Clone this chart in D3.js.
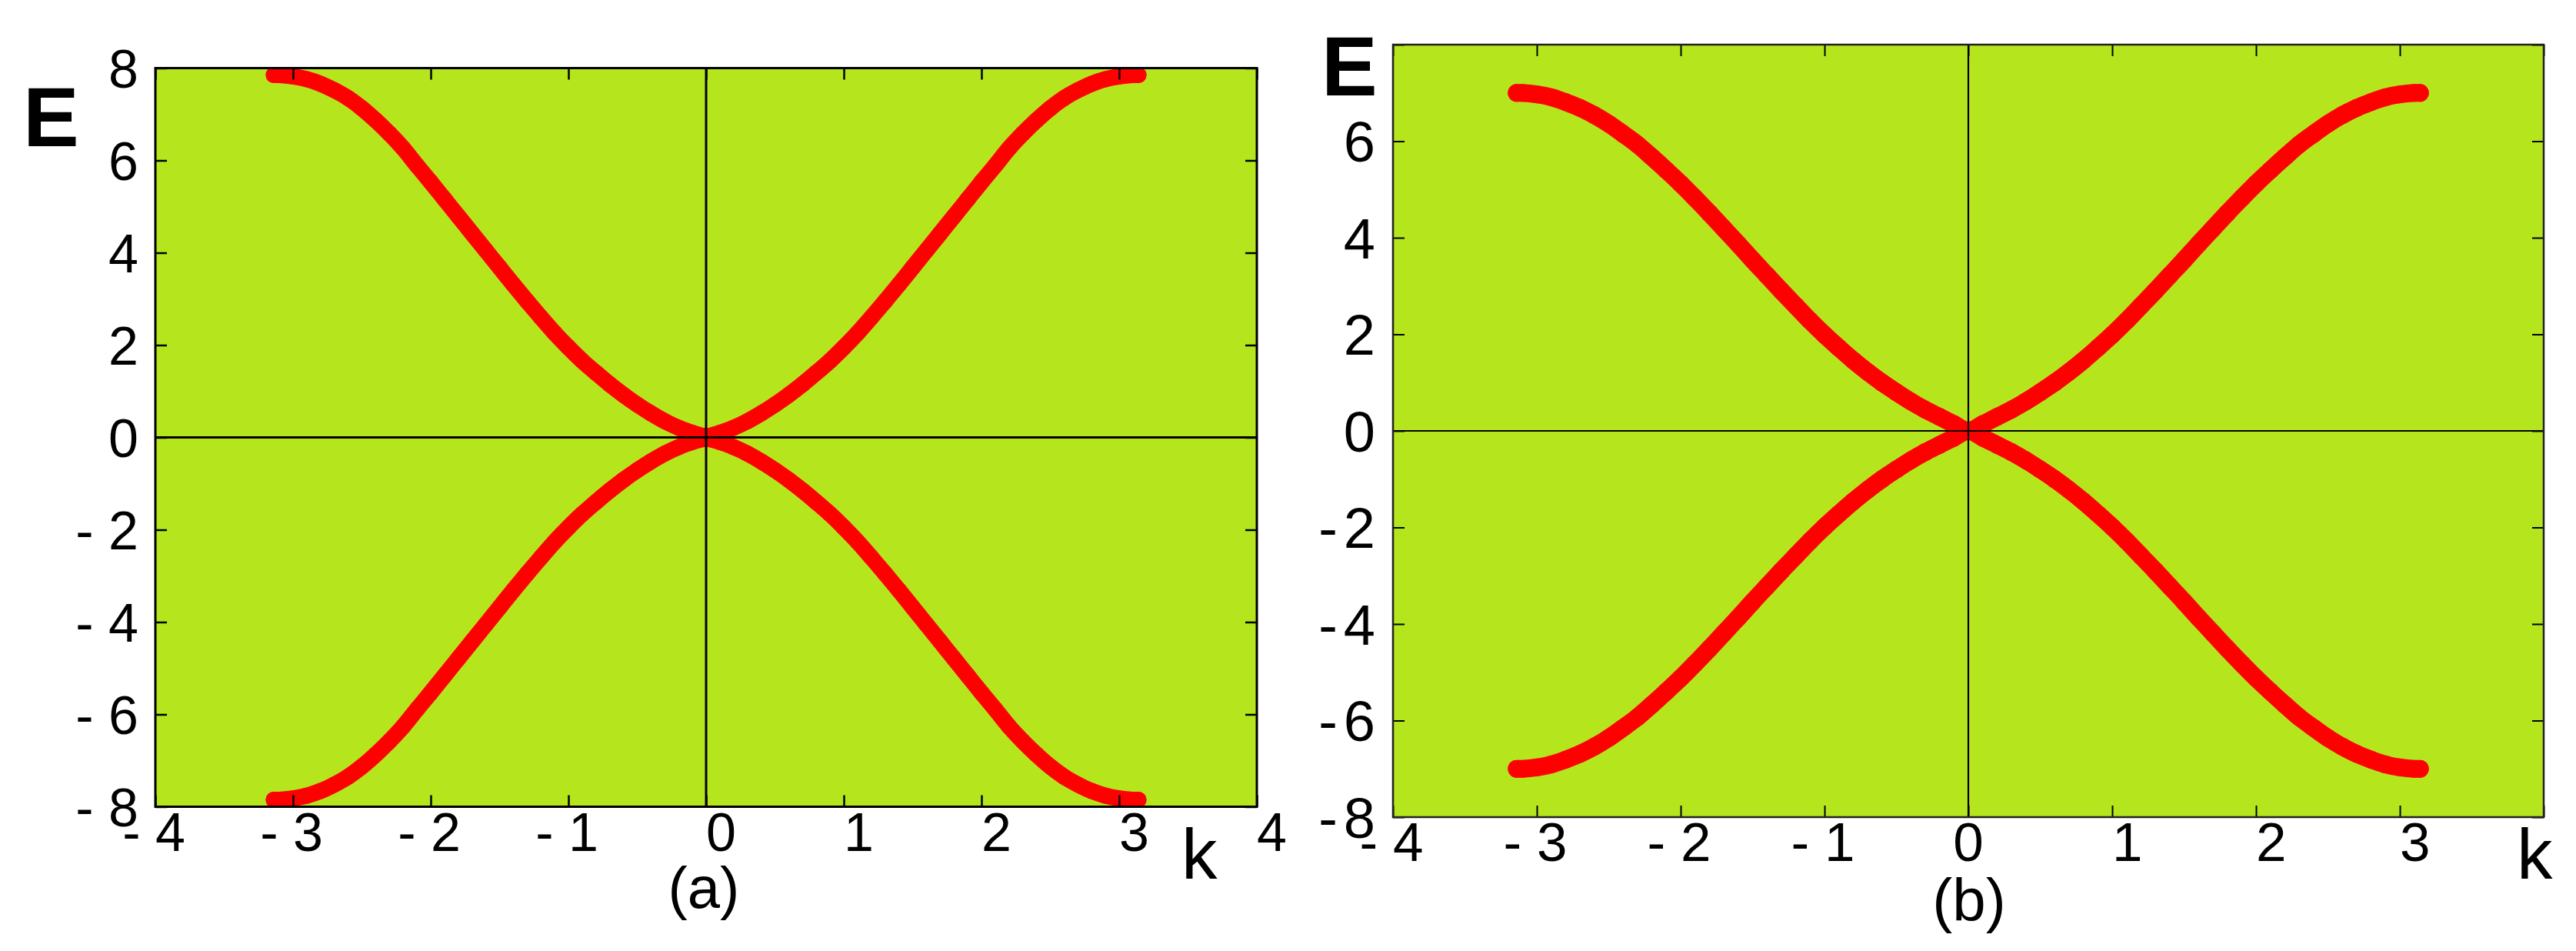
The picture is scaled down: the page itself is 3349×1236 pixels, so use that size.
<!DOCTYPE html>
<html>
<head>
<meta charset="utf-8">
<script src="https://cdn.jsdelivr.net/npm/d3@7"></script>
<style>
  body { margin: 0; background: #fff; }
  text { font-family: 'Liberation Sans', Arial, sans-serif; fill: #000; }
</style>
</head>
<body>
<div class="wrapper"></div>
<script>
// data

var kValues = [-3.14, -3.1, -3.0, -2.9, -2.8, -2.7, -2.6, -2.5, -2.4, -2.3, -2.2, -2.1, -2.0,
  -1.9, -1.8, -1.7, -1.6, -1.5, -1.4, -1.3, -1.2, -1.1, -1.0, -0.9, -0.8, -0.7, -0.6, -0.5,
  -0.4, -0.3, -0.2, -0.1, 0, 0.1, 0.2, 0.3, 0.4, 0.5, 0.6, 0.7, 0.8, 0.9, 1.0, 1.1, 1.2, 1.3,
  1.4, 1.5, 1.6, 1.7, 1.8, 1.9, 2.0, 2.1, 2.2, 2.3, 2.4, 2.5, 2.6, 2.7, 2.8, 2.9, 3.0, 3.1, 3.14];

// panel (a)
var bandAUpper = [7.85, 7.85, 7.82, 7.76, 7.66, 7.52, 7.35, 7.13, 6.87, 6.58, 6.26, 5.89, 5.53,
  5.16, 4.79, 4.42, 4.05, 3.68, 3.31, 2.95, 2.60, 2.26, 1.95, 1.66, 1.40, 1.15, 0.92, 0.71,
  0.52, 0.35, 0.21, 0.10, 0.03, 0.10, 0.21, 0.35, 0.52, 0.71, 0.92, 1.15, 1.40, 1.66, 1.95,
  2.26, 2.60, 2.95, 3.31, 3.68, 4.05, 4.42, 4.79, 5.16, 5.53, 5.89, 6.26, 6.58, 6.87, 7.13,
  7.35, 7.52, 7.66, 7.76, 7.82, 7.85, 7.85];
var bandALower = [-7.85, -7.85, -7.82, -7.76, -7.66, -7.52, -7.35, -7.13, -6.87, -6.58, -6.26,
  -5.89, -5.53, -5.16, -4.79, -4.42, -4.05, -3.68, -3.31, -2.95, -2.60, -2.26, -1.95, -1.66,
  -1.40, -1.15, -0.92, -0.71, -0.52, -0.35, -0.21, -0.10, -0.03, -0.10, -0.21, -0.35, -0.52,
  -0.71, -0.92, -1.15, -1.40, -1.66, -1.95, -2.26, -2.60, -2.95, -3.31, -3.68, -4.05, -4.42,
  -4.79, -5.16, -5.53, -5.89, -6.26, -6.58, -6.87, -7.13, -7.35, -7.52, -7.66, -7.76, -7.82,
  -7.85, -7.85];

// panel (b)
var bandBUpper = [7.00, 7.00, 6.97, 6.91, 6.81, 6.69, 6.54, 6.36, 6.15, 5.93, 5.67, 5.40, 5.12,
  4.82, 4.51, 4.19, 3.87, 3.54, 3.22, 2.90, 2.59, 2.28, 1.99, 1.72, 1.46, 1.22, 1.00, 0.80,
  0.61, 0.44, 0.29, 0.14, 0.00, 0.14, 0.29, 0.44, 0.61, 0.80, 1.00, 1.22, 1.46, 1.72, 1.99,
  2.28, 2.59, 2.90, 3.22, 3.54, 3.87, 4.19, 4.51, 4.82, 5.12, 5.40, 5.67, 5.93, 6.15, 6.36,
  6.54, 6.69, 6.81, 6.91, 6.97, 7.00, 7.00];
var bandBLower = [-7.00, -7.00, -6.97, -6.91, -6.81, -6.69, -6.54, -6.36, -6.15, -5.93, -5.67,
  -5.40, -5.12, -4.82, -4.51, -4.19, -3.87, -3.54, -3.22, -2.90, -2.59, -2.28, -1.99, -1.72,
  -1.46, -1.22, -1.00, -0.80, -0.61, -0.44, -0.29, -0.14, 0.00, -0.14, -0.29, -0.44, -0.61,
  -0.80, -1.00, -1.22, -1.46, -1.72, -1.99, -2.28, -2.59, -2.90, -3.22, -3.54, -3.87, -4.19,
  -4.51, -4.82, -5.12, -5.40, -5.67, -5.93, -6.15, -6.36, -6.54, -6.69, -6.81, -6.91, -6.97,
  -7.00, -7.00];

var xTicks = [-4, -3, -2, -1, 0, 1, 2, 3, 4];
var yTicks = [8, 6, 4, 2, 0, -2, -4, -6, -8];
var xLabelsA = ['- 4', '- 3', '- 2', '- 1', '0', '1', '2', '3', '4'];
var xLabelsB = ['- 4', '- 3', '- 2', '- 1', '0', '1', '2', '3', ''];
var yLabelsA = ['8', '6', '4', '2', '0', '- 2', '- 4', '- 6', '- 8'];
var yLabelsB = ['', '6', '4', '2', '0', '-2', '-4', '-6', '-8'];

// layout

var W = 3349, H = 1236;

var panels = [
  {left: 202, right: 1634, top: 88.5, bottom: 1048.5, r: 10.5, tick: 15,
   frame: 3, frameColor: '#000', zero: 3, tickWidth: 2.5,
   bands: [bandAUpper, bandALower], xLabels: xLabelsA, yLabels: yLabelsA,
   xFont: 70, xBase: 57, yFont: 70, yGap: 22, yDashGap: 0, zeroMid: false,
   E: {x: 30, y: 190}, k: {x: 1536, y: 1142}, tag: '(a)', tagFont: 76, tagX: 915, tagY: 1180},
  {left: 1811, right: 3307, top: 58, bottom: 1062, r: 11.5, tick: 15,
   frame: 2.5, frameColor: '#222', zero: 2.2, tickWidth: 2,
   bands: [bandBUpper, bandBLower], xLabels: xLabelsB, yLabels: yLabelsB,
   xFont: 71, xBase: 57, yFont: 74, yGap: 23, yDashGap: 8, zeroMid: true,
   E: {x: 1718, y: 124}, k: {x: 3272, y: 1142}, tag: '(b)', tagFont: 78, tagX: 2560, tagY: 1197}
];

var svg = d3.select('.wrapper').append('svg')
            .attr('width', W)
            .attr('height', H);

svg.append('rect').attr('width', W).attr('height', H).attr('fill', '#fff');

var drawPanel = (p) => {
    var g = svg.append('g');
    var x = d3.scaleLinear().domain([-4, 4]).range([p.left, p.right]);
    var y = d3.scaleLinear().domain([-8, 8]).range([p.bottom, p.top]);

    g.append('rect')
        .attr('x', p.left).attr('y', p.top)
        .attr('width', p.right - p.left).attr('height', p.bottom - p.top)
        .attr('fill', '#b5e61d');

    var line = d3.line()
                 .x(d => x(d[0]))
                 .y(d => y(d[1]))
                 .curve(d3.curveCatmullRom);

    p.bands.forEach(band => {
        var pts = kValues.map((k, i) => [k, band[i]]);
        g.append('path')
            .datum(pts)
            .attr('d', line)
            .attr('fill', 'none')
            .attr('stroke', '#ff0000')
            .attr('stroke-width', 2 * p.r)
            .attr('stroke-linecap', 'round')
            .attr('stroke-linejoin', 'round');
        g.append('g').selectAll('circle')
            .data(pts)
            .enter()
            .append('circle')
            .attr('cx', d => x(d[0]))
            .attr('cy', d => y(d[1]))
            .attr('r', p.r)
            .attr('fill', '#ff0000');
    });

    // zero lines
    g.append('line')
        .attr('x1', x(0)).attr('x2', x(0))
        .attr('y1', p.top).attr('y2', p.bottom)
        .attr('stroke', '#000').attr('stroke-width', p.zero);
    g.append('line')
        .attr('x1', p.left).attr('x2', p.right)
        .attr('y1', y(0)).attr('y2', y(0))
        .attr('stroke', '#000').attr('stroke-width', p.zero);

    // ticks on all four sides
    var sides = [
        {ax: d3.axisBottom(x).tickValues(xTicks), t: `translate(0,${p.bottom})`},
        {ax: d3.axisTop(x).tickValues(xTicks), t: `translate(0,${p.top})`},
        {ax: d3.axisLeft(y).tickValues(yTicks), t: `translate(${p.left},0)`},
        {ax: d3.axisRight(y).tickValues(yTicks), t: `translate(${p.right},0)`}
    ];
    sides.forEach(s => {
        var a = g.append('g')
                 .attr('transform', s.t)
                 .call(s.ax.tickSizeInner(-p.tick).tickSizeOuter(0).tickFormat(''));
        a.select('.domain').remove();
        a.selectAll('line').attr('stroke', '#000').attr('stroke-width', p.tickWidth);
        a.selectAll('text').remove();
    });

    g.append('rect')
        .attr('x', p.left).attr('y', p.top)
        .attr('width', p.right - p.left).attr('height', p.bottom - p.top)
        .attr('fill', 'none')
        .attr('stroke', p.frameColor)
        .attr('stroke-width', p.frame);

    // x tick labels: digit starts at the tick, minus sits in front of it
    g.append('g').selectAll('text')
        .data(xTicks)
        .enter()
        .append('text')
        .attr('x', d => x(d))
        .attr('y', p.bottom + p.xBase)
        .attr('font-size', p.xFont)
        .attr('text-anchor', d => (d === 0 && p.zeroMid) ? 'middle' : 'start')
        .attr('dx', d => d < 0 ? '-0.611em' : 0)
        .text((d, i) => p.xLabels[i]);

    // y tick labels
    g.append('g').selectAll('text')
        .data(yTicks)
        .enter()
        .append('text')
        .attr('x', p.left - p.yGap)
        .attr('y', d => y(d))
        .attr('dy', '0.36em')
        .attr('font-size', p.yFont)
        .attr('text-anchor', 'end')
        .each(function(d, i) {
            var lab = p.yLabels[i];
            var t = d3.select(this);
            if (p.yDashGap && lab.charAt(0) === '-') {
                t.append('tspan').text('-');
                t.append('tspan').attr('dx', p.yDashGap).text(lab.slice(1));
            } else {
                t.text(lab);
            }
        });

    g.append('text')
        .attr('x', p.E.x).attr('y', p.E.y)
        .attr('font-size', 109)
        .attr('font-weight', 'bold')
        .text('E');
    g.append('text')
        .attr('x', p.k.x).attr('y', p.k.y)
        .attr('font-size', 93)
        .text('k');
    g.append('text')
        .attr('x', p.tagX).attr('y', p.tagY)
        .attr('font-size', p.tagFont)
        .attr('text-anchor', 'middle')
        .text(p.tag);
};

panels.forEach(drawPanel);
</script>
</body>
</html>
